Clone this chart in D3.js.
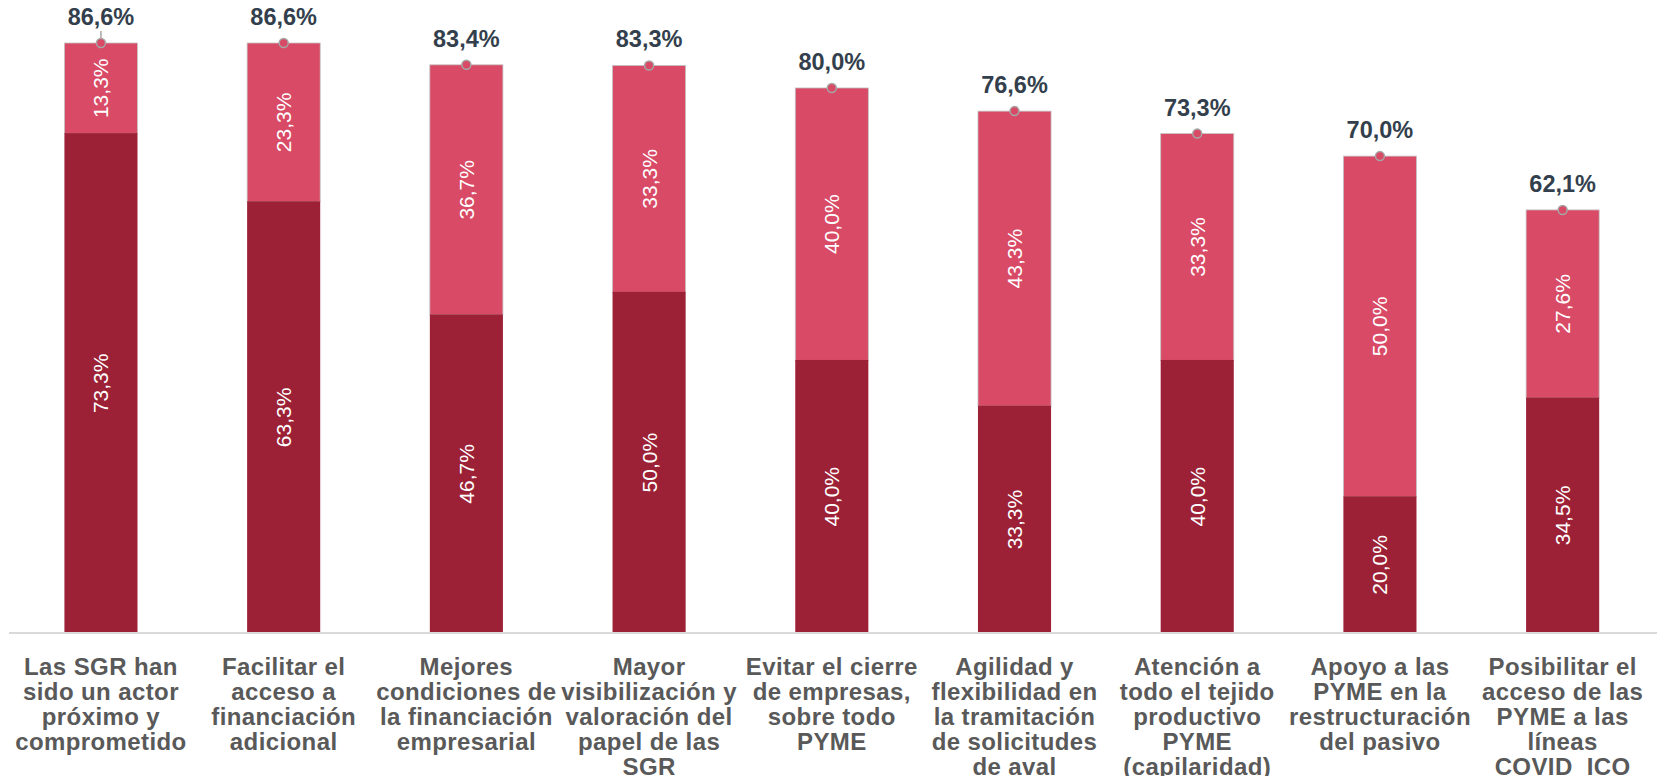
<!DOCTYPE html>
<html>
<head>
<meta charset="utf-8">
<script src="https://cdn.jsdelivr.net/npm/d3@7"></script>
<style>
  body { margin: 0; background: #fff; }
  svg { display: block; font-family: Arial, "Liberation Sans", sans-serif; }
</style>
</head>
<body>
<svg id="chart" width="1657" height="776"></svg>
<script>
// datos: categorias (con saltos de linea), series y totales
let categorias = [
  "Las SGR han|sido un actor|próximo y|comprometido",
  "Facilitar el|acceso a|financiación|adicional",
  "Mejores|condiciones de|la financiación|empresarial",
  "Mayor|visibilización y|valoración del|papel de las|SGR",
  "Evitar el cierre|de empresas,|sobre todo|PYME",
  "Agilidad y|flexibilidad en|la tramitación|de solicitudes|de aval",
  "Atención a|todo el tejido|productivo|PYME|(capilaridad)",
  "Apoyo a las|PYME en la|restructuración|del pasivo",
  "Posibilitar el|acceso de las|PYME a las|líneas|COVID  ICO"
];
let serieOscura = [73.3, 63.3, 46.7, 50.0, 40.0, 33.3, 40.0, 20.0, 34.5];
let serieClara  = [13.3, 23.3, 36.7, 33.3, 40.0, 43.3, 33.3, 50.0, 27.6];
let totales     = [86.6, 86.6, 83.4, 83.3, 80.0, 76.6, 73.3, 70.0, 62.1];

let colorOscuro = "#9C2136";
let colorClaro = "#D84A66";

let svg = d3.select("#chart");
let baseY = 633;

// formato con coma decimal
let es = d3.formatLocale({decimal: ",", thousands: ".", grouping: [3], currency: ["", "€"]});
let fmt = v => es.format(".1f")(v) + "%";

let scaleX = d3.scaleBand()
  .domain(d3.range(categorias.length))
  .range([9.6, 1654])
  .paddingInner(0.6)
  .paddingOuter(0.3);
let scaleY = d3.scaleLinear()
  .domain([0, 100])
  .range([baseY, baseY - 681.3]);

let datos = categorias.map((c, i) => ({i: i, cat: c, oscura: serieOscura[i], clara: serieClara[i], total: totales[i]}));

// eje X (solo la linea)
svg.append("line")
  .attr("x1", 9).attr("x2", 1657)
  .attr("y1", baseY).attr("y2", baseY)
  .attr("stroke", "#d9d9d9")
  .attr("stroke-width", 2);

// segmento superior (primero, para que el inferior tape su borde de abajo)
svg.selectAll(".cla")
  .data(datos)
  .enter()
  .append("rect")
  .attr("x", d => scaleX(d.i))
  .attr("width", scaleX.bandwidth())
  .attr("y", d => scaleY(d.oscura + d.clara))
  .attr("height", d => scaleY(d.oscura) - scaleY(d.oscura + d.clara))
  .attr("fill", colorClaro)
  .attr("stroke", "#c4c4c4")
  .attr("stroke-width", 0.8);

// segmento inferior
svg.selectAll(".osc")
  .data(datos)
  .enter()
  .append("rect")
  .attr("x", d => scaleX(d.i))
  .attr("width", scaleX.bandwidth())
  .attr("y", d => scaleY(d.oscura) - 0.5)
  .attr("height", d => baseY - scaleY(d.oscura) - 0.5)
  .attr("fill", colorOscuro);

// etiquetas dentro de las barras (rotadas)
function etiquetaSegmento(getMid, getVal) {
  svg.selectAll(null)
    .data(datos)
    .enter()
    .append("text")
    .attr("transform", d => `translate(${scaleX(d.i) + scaleX.bandwidth() / 2}, ${getMid(d)}) rotate(-90)`)
    .attr("text-anchor", "middle")
    .attr("dominant-baseline", "central")
    .style("font-size", "21px")
    .attr("fill", "#ffffff")
    .text(d => fmt(getVal(d)));
}
etiquetaSegmento(d => (scaleY(d.oscura) + baseY) / 2, d => d.oscura);
etiquetaSegmento(d => (scaleY(d.oscura) + scaleY(d.oscura + d.clara)) / 2, d => d.clara);

// linea guia del primer total
svg.append("line")
  .attr("x1", scaleX(0) + scaleX.bandwidth() / 2)
  .attr("x2", scaleX(0) + scaleX.bandwidth() / 2)
  .attr("y1", scaleY(totales[0]) - 12)
  .attr("y2", scaleY(totales[0]))
  .attr("stroke", "#a6a6a6")
  .attr("stroke-width", 1.5);

// puntos del total
svg.selectAll(".dot")
  .data(datos)
  .enter()
  .append("circle")
  .attr("cx", d => scaleX(d.i) + scaleX.bandwidth() / 2)
  .attr("cy", d => scaleY(d.total))
  .attr("r", 4.5)
  .attr("fill", colorClaro)
  .attr("stroke", "#a6a6a6")
  .attr("stroke-width", 1.5);

// totales
svg.selectAll(".tot")
  .data(datos)
  .enter()
  .append("text")
  .attr("x", d => scaleX(d.i) + scaleX.bandwidth() / 2)
  .attr("y", d => scaleY(d.total) - 18)
  .attr("text-anchor", "middle")
  .style("font-size", "23.5px")
  .style("font-weight", "bold")
  .attr("fill", "#333f4c")
  .text(d => fmt(d.total));

// etiquetas de categoria
let cats = svg.selectAll(".cat")
  .data(datos)
  .enter()
  .append("text")
  .attr("text-anchor", "middle")
  .style("font-size", "24px")
  .style("font-weight", "bold")
  .style("letter-spacing", "0.4px")
  .attr("fill", "#595959")
  .attr("xml:space", "preserve");
cats.selectAll("tspan")
  .data(d => d.cat.split("|").map((t, k) => ({t: t, k: k, x: scaleX(d.i) + scaleX.bandwidth() / 2})))
  .enter()
  .append("tspan")
  .attr("x", d => d.x)
  .attr("y", d => 675 + d.k * 25)
  .text(d => d.t);
</script>
</body>
</html>
